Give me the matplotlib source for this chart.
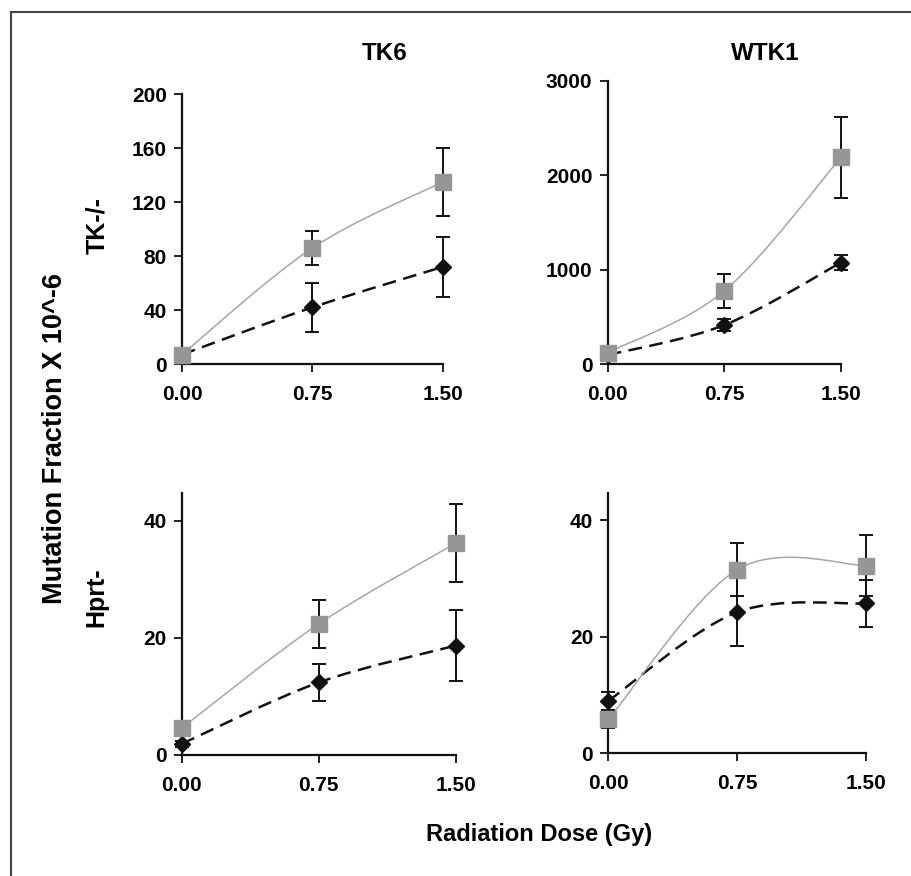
import numpy as np
import matplotlib
matplotlib.use("Agg")
import matplotlib.pyplot as plt
from matplotlib.path import Path
from matplotlib.patches import PathPatch
from matplotlib.lines import Line2D

plt.rcParams['font.family'] = ['Liberation Sans', 'DejaVu Sans']
plt.rcParams['font.weight'] = 'bold'

# ---- data ----
dose = [0.0, 0.75, 1.50]
dose_labels = ["0.00", "0.75", "1.50"]

# TK6, TK-/-
tk6_tk_sq = [7, 86, 135]
tk6_tk_sq_err = [1.5, 12.5, 25]
tk6_tk_di = [7, 42, 72]
tk6_tk_di_err = [1.5, 18, 22]

# WTK1, TK-/-
wtk1_tk_sq = [120, 774, 2187]
wtk1_tk_sq_err = [30, 182, 424]
wtk1_tk_di = [95, 413, 1074]
wtk1_tk_di_err = [20, 60, 83]

# TK6, Hprt-
tk6_hp_sq = [4.6, 22.4, 36.2]
tk6_hp_sq_err = [0.5, 4.1, 6.6]
tk6_hp_di = [1.9, 12.4, 18.7]
tk6_hp_di_err = [0.5, 3.2, 6.0]

# WTK1, Hprt-
wtk1_hp_sq = [5.8, 31.5, 32.2]
wtk1_hp_sq_err = [1.5, 4.5, 5.2]
wtk1_hp_di = [9.0, 24.2, 25.7]
wtk1_hp_di_err = [1.6, 5.8, 4.0]

col_titles = ["TK6", "WTK1"]
row_titles = ["TK-/-", "Hprt-"]

W, H = 912, 876
fig = plt.figure(figsize=(W / 100, H / 100), dpi=100)


def smooth_path(x, y):
    x = np.asarray(x, float)
    y = np.asarray(y, float)
    n = len(x)
    verts = [(x[0], y[0])]
    codes = [Path.MOVETO]
    for i in range(n - 1):
        im1 = max(i - 1, 0)
        ip2 = min(i + 2, n - 1)
        c1 = (x[i] + (x[i + 1] - x[im1]) / 6, y[i] + (y[i + 1] - y[im1]) / 6)
        c2 = (x[i + 1] - (x[ip2] - x[i]) / 6, y[i + 1] - (y[ip2] - y[i]) / 6)
        verts += [c1, c2, (x[i + 1], y[i + 1])]
        codes += [Path.CURVE4] * 3
    return Path(verts, codes)


def panel(rect, sq, sq_err, di, di_err, ylim, yticks):
    ax = fig.add_axes(rect)
    # diamond series (dashed black)
    ax.add_patch(PathPatch(smooth_path(dose, di), fill=False, edgecolor='#111111',
                           lw=1.8, linestyle=(0, (5.5, 3.0)), zorder=2, clip_on=False))
    ax.errorbar(dose, di, yerr=di_err, fmt='none', ecolor='#111111', elinewidth=1.4,
                capsize=5, capthick=1.4, zorder=3, clip_on=False)
    ax.plot(dose, di, linestyle='none', marker='D', ms=8.5, mfc='#111111', mec='#111111',
            zorder=4, clip_on=False)
    # square series (grey solid)
    ax.add_patch(PathPatch(smooth_path(dose, sq), fill=False, edgecolor='#a6a6a6',
                           lw=1.1, zorder=5, clip_on=False))
    ax.errorbar(dose, sq, yerr=sq_err, fmt='none', ecolor='#111111', elinewidth=1.4,
                capsize=5, capthick=1.4, zorder=6, clip_on=False)
    ax.plot(dose, sq, linestyle='none', marker='s', ms=12, mfc='#969696', mec='#969696',
            zorder=7, clip_on=False)

    ax.set_xlim(0, 1.5)
    ax.set_ylim(*ylim)
    ax.set_xticks(dose)
    ax.set_xticklabels(dose_labels)
    ax.set_yticks(yticks)
    ax.spines['top'].set_visible(False)
    ax.spines['right'].set_visible(False)
    for s in ('left', 'bottom'):
        ax.spines[s].set_linewidth(1.6)
        ax.spines[s].set_color('#111111')
    ax.tick_params(axis='both', direction='out', length=6, width=1.3, color='#111111',
                   labelsize=15)
    ax.tick_params(axis='x', pad=9)
    ax.tick_params(axis='y', pad=5)
    for lab in ax.get_xticklabels() + ax.get_yticklabels():
        lab.set_fontweight('bold')
    ax.patch.set_alpha(0)
    return ax


def frect(x0, x1, y0, y1):
    # pixel box -> figure fraction rect (y0 = bottom pixel row, y1 = top pixel row)
    return [x0 / W, 1 - y0 / H, (x1 - x0) / W, (y0 - y1) / H]


panel(frect(182, 443, 364, 94), tk6_tk_sq, tk6_tk_sq_err, tk6_tk_di, tk6_tk_di_err,
      (0, 200), [0, 40, 80, 120, 160, 200])
panel(frect(607.7, 841, 364, 80.7), wtk1_tk_sq, wtk1_tk_sq_err, wtk1_tk_di, wtk1_tk_di_err,
      (0, 3000), [0, 1000, 2000, 3000])
panel(frect(181.7, 456, 755, 492.7), tk6_hp_sq, tk6_hp_sq_err, tk6_hp_di, tk6_hp_di_err,
      (0, 44.8), [0, 20, 40])
panel(frect(608.3, 866, 753.3, 492.7), wtk1_hp_sq, wtk1_hp_sq_err, wtk1_hp_di, wtk1_hp_di_err,
      (0, 44.7), [0, 20, 40])

fig.text(385 / W, 1 - 54 / H, col_titles[0], ha='center', va='center', fontsize=17.5,
         fontweight='bold')
fig.text(765 / W, 1 - 54 / H, col_titles[1], ha='center', va='center', fontsize=17.5,
         fontweight='bold')
fig.text(97 / W, 1 - 225 / H, row_titles[0], ha='center', va='center', fontsize=18,
         fontweight='bold', rotation=90)
fig.text(96 / W, 1 - 597 / H, row_titles[1], ha='center', va='center', fontsize=18,
         fontweight='bold', rotation=90)
fig.text(55 / W, 1 - 439 / H, "Mutation Fraction X 10^-6", ha='center', va='center',
         fontsize=19.5, fontweight='bold', rotation=90)
fig.text(539 / W, 1 - 834 / H, "Radiation Dose (Gy)", ha='center', va='center',
         fontsize=17, fontweight='bold')

# outer frame (left and top edges)
fig.add_artist(Line2D([11 / W, 11 / W], [0, 1 - 12 / H], transform=fig.transFigure,
                      color='#444444', lw=1.5))
fig.add_artist(Line2D([11 / W, 1], [1 - 12 / H, 1 - 12 / H], transform=fig.transFigure,
                      color='#444444', lw=1.5))

fig.savefig("out.png", dpi=100)
